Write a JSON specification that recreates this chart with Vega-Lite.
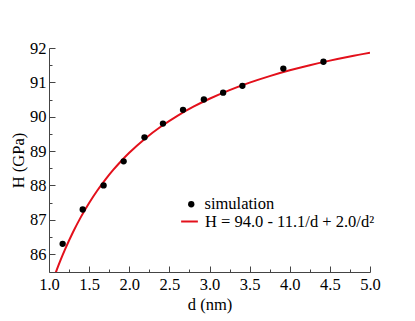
{
  "$schema": "https://vega.github.io/schema/vega-lite/v6.json",
  "autosize": "none",
  "width": 321,
  "height": 224,
  "padding": {"left": 49, "top": 48, "right": 45, "bottom": 49},
  "background": "white",
  "config": {
    "view": {"stroke": null},
    "font": "Times New Roman, Liberation Serif, serif",
    "axis": {"grid": false, "domainColor": "#444", "tickColor": "#444", "labelColor": "black", "titleColor": "black", "labelFont": "Times New Roman, Liberation Serif, serif", "titleFont": "Times New Roman, Liberation Serif, serif", "labelFontSize": 16.5, "titleFontSize": 16.5, "titleFontWeight": "normal"},
    "legend": {"labelFont": "Times New Roman, Liberation Serif, serif", "labelFontSize": 16.5, "labelColor": "black", "labelLimit": 400}
  },
  "datasets": {
    "sim": [
      {"d": 1.17, "H": 86.3}, {"d": 1.42, "H": 87.3}, {"d": 1.68, "H": 88.0}, {"d": 1.93, "H": 88.7},
      {"d": 2.19, "H": 89.4}, {"d": 2.42, "H": 89.8}, {"d": 2.67, "H": 90.2}, {"d": 2.93, "H": 90.5},
      {"d": 3.17, "H": 90.7}, {"d": 3.41, "H": 90.9}, {"d": 3.92, "H": 91.4}, {"d": 4.42, "H": 91.6}
    ],
    "fit": [
      {"d": 1.05, "H": 85.243}, {"d": 1.1, "H": 85.562}, {"d": 1.15, "H": 85.86}, {"d": 1.2, "H": 86.139},
      {"d": 1.3, "H": 86.645}, {"d": 1.4, "H": 87.092}, {"d": 1.5, "H": 87.489}, {"d": 1.6, "H": 87.844},
      {"d": 1.7, "H": 88.163}, {"d": 1.8, "H": 88.451}, {"d": 1.9, "H": 88.712}, {"d": 2.0, "H": 88.95},
      {"d": 2.2, "H": 89.368}, {"d": 2.4, "H": 89.722}, {"d": 2.6, "H": 90.027}, {"d": 2.8, "H": 90.291},
      {"d": 3.0, "H": 90.522}, {"d": 3.25, "H": 90.774}, {"d": 3.5, "H": 90.992}, {"d": 3.75, "H": 91.182},
      {"d": 4.0, "H": 91.35}, {"d": 4.25, "H": 91.499}, {"d": 4.5, "H": 91.632}, {"d": 4.75, "H": 91.752},
      {"d": 5.0, "H": 91.86}
    ]
  },
  "layer": [
    {
      "data": {"name": "fit"},
      "mark": {"type": "line", "color": "#e3101b", "strokeWidth": 2, "clip": true, "interpolate": "monotone"},
      "encoding": {
        "x": {"field": "d", "type": "quantitative", "scale": {"domain": [1, 5], "nice": false, "zero": false},
          "axis": {"orient": "bottom", "values": [1.25, 1.75, 2.25, 2.75, 3.25, 3.75, 4.25, 4.75], "labels": false, "domain": false, "tickSize": -3, "title": null}},
        "y": {"field": "H", "type": "quantitative", "scale": {"domain": [85.48, 92], "nice": false, "zero": false},
          "axis": {"orient": "left", "values": [86.5, 87.5, 88.5, 89.5, 90.5, 91.5], "labels": false, "domain": false, "tickSize": -3, "title": null}},
        "stroke": {"datum": "H = 94.0 - 11.1/d + 2.0/d²", "type": "nominal", "scale": {"range": ["#e3101b"]},
          "legend": {"orient": "none", "legendX": 131, "legendY": 164, "title": null, "symbolStrokeWidth": 2, "symbolSize": 280, "labelOffset": 6, "labelLimit": 400}}
      }
    },
    {
      "data": {"name": "sim"},
      "mark": {"type": "point", "filled": true, "color": "black", "opacity": 1, "size": 40},
      "encoding": {
        "x": {"field": "d", "type": "quantitative", "title": "d (nm)",
          "axis": {"orient": "bottom", "values": [1, 1.5, 2, 2.5, 3, 3.5, 4, 4.5, 5], "format": ".1f", "tickSize": -6, "labelPadding": 10, "titlePadding": 4, "labelFlush": false}},
        "y": {"field": "H", "type": "quantitative", "title": "H (GPa)",
          "axis": {"orient": "left", "values": [86, 87, 88, 89, 90, 91, 92], "format": "d", "tickSize": -6, "labelPadding": 9, "titlePadding": 3}},
        "shape": {"datum": "simulation", "type": "nominal", "scale": {"range": ["circle"]},
          "legend": {"orient": "none", "legendX": 134, "legendY": 148, "title": null, "symbolFillColor": "black", "symbolStrokeColor": "black", "symbolSize": 40, "labelOffset": 5}}
      }
    }
  ],
  "resolve": {"axis": {"x": "independent", "y": "independent"}, "legend": {"shape": "independent", "stroke": "independent"}}
}
